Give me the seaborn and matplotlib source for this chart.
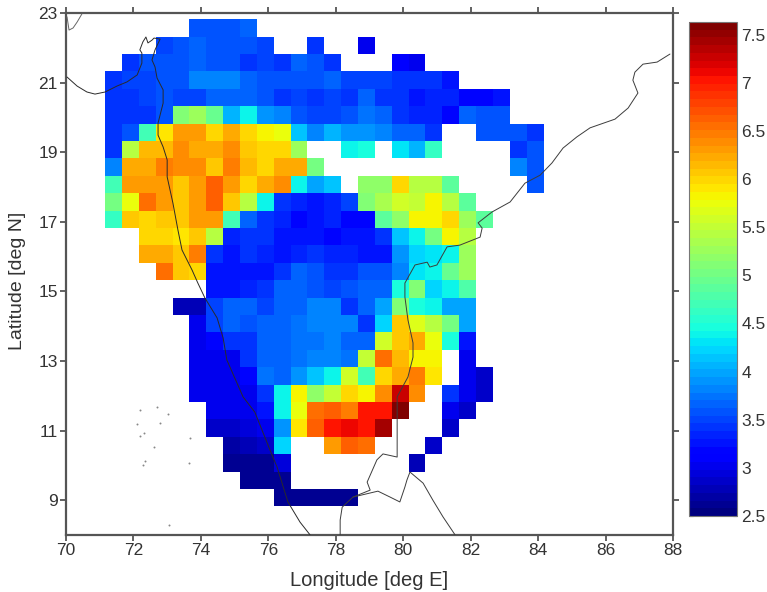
import numpy as np
import pandas as pd
import seaborn as sns
import matplotlib.pyplot as plt

n = np.nan

# grid values, one list per latitude row from north to south, 0.5 deg cells
r00 = [n]*5 + [3.55,3.55,3.55,3.7] + [n]*17
r01 = [n]*3 + [3.5,3.6,3.65,3.55,3.55,3.6,3.5] + [n]*2 + [3.45] + [n]*2 + [3.05] + [n]*10
r02 = [n] + [3.4,3.55,3.55,3.55,3.7,3.6,3.6,3.4,3.5,3.4,3.65,3.55,3.45] + [n]*3 + [3.1,3.05] + [n]*7
r03 = [3.45,3.5,3.5,3.55,3.6,3.8,3.85,3.85,3.65,3.55,3.55,3.55,3.55,3.65,3.5,3.5,3.5,3.4,3.4,3.45,3.25] + [n]*5
r04 = [3.45,3.45,3.5,3.6,3.5,3.5,3.7,3.7,3.65,3.55,3.45,3.5,3.45,3.5,3.45,3.65,3.4,3.4,3.3,3.35,3.35,3.2,3.2,3.3] + [n]*2
r05 = [3.45,3.45,3.45,3.6,5.1,5.3,4.95,4.05,4.4,3.9,3.85,3.55,3.5,3.5,3.6,3.75,3.65,3.4,3.35,3.35,3.2,3.65,3.6,3.6] + [n]*2
r06 = [3.45,3.55,4.7,5.9,6.3,6.3,6.0,6.25,6.0,5.8,5.75,4.15,3.85,4.1,3.9,3.9,3.8,3.7,3.7,3.4] + [n]*2 + [3.6,3.6,3.55,3.45]
r07 = [3.45,5.45,6.15,6.15,6.35,6.2,6.25,6.35,6.1,6.0,6.0,5.3] + [n]*2 + [4.4,4.45] + [n] + [4.3,4.05,4.65] + [n]*4 + [3.45,3.6]
r08 = [3.85,6.2,6.2,6.45,6.35,6.35,6.1,6.5,6.15,6.0,6.2,6.25,5.05] + [n]*11 + [3.85,3.6]
r09 = [4.7,6.3,6.3,6.3,6.05,6.3,6.65,6.3,6.0,6.25,6.35,4.4,3.95,4.15] + [n] + [5.2,5.15,5.95,5.4,5.4,4.85] + [n]*4 + [3.6]
r10 = [5.05,5.75,6.55,6.3,6.1,6.3,6.65,6.1,5.45,4.4,3.4,3.35,3.3,3.35,3.5,5.1,5.35,5.6,5.5,5.8,5.45,4.85] + [n]*4
r11 = [4.65,6.1,5.95,6.1,6.05,6.3,6.3,4.7,3.7,3.4,3.35,3.2,3.25,3.35,3.2,3.2,4.9,5.2,5.8,5.85,5.95,5.3,4.85] + [n]*3
r12 = [n]*2 + [5.95,6.0,5.9,6.1,5.45,3.35,3.4,3.4,3.25,3.25,3.3,3.2,3.25,3.3,3.45,4.15,4.35,5.05,5.85,5.4] + [n]*4
r13 = [n]*2 + [6.25,6.2,6.1,6.5,3.45,3.3,3.4,3.35,3.3,3.35,3.4,3.35,3.35,3.25,3.25,3.9,4.2,4.3,4.35,5.3] + [n]*4
r14 = [n]*3 + [6.55,6.1,5.95,3.25,3.25,3.3,3.3,3.45,3.65,3.6,3.45,3.45,3.55,3.55,3.8,4.3,4.35,4.95,5.25] + [n]*4
r15 = [n]*6 + [3.25,3.25,3.35,3.45,3.7,3.7,3.6,3.5,3.6,3.65,3.65,4.45,5.1,4.2,4.4,4.8] + [n]*4
r16 = [n]*4 + [2.75,2.75,3.5,3.65,3.65,3.5,3.7,3.7,3.8,3.8,3.45,3.65,3.95,5.1,4.45,4.4,3.95,4.0] + [n]*4
r17 = [n]*5 + [3.05,3.5,3.65,3.55,3.65,3.65,3.75,3.8,3.8,3.8,3.45,4.25,6.1,5.65,5.4,5.0,3.95] + [n]*4
r18 = [n]*5 + [3.05,3.2,3.45,3.45,3.7,3.7,3.75,3.75,3.8,3.7,3.7,5.6,6.1,6.25,5.75,4.5,3.3] + [n]*4
r19 = [n]*5 + [3.05,3.05,3.05,3.45,3.7,3.7,3.75,3.8,3.8,3.75,5.5,6.55,6.15,5.85,5.85] + [n] + [3.0] + [n]*4
r20 = [n]*5 + [3.0,3.0,3.05,3.2,3.75,3.65,3.9,4.15,4.4,5.55,4.7,6.0,6.25,6.45,5.9] + [n] + [3.0,2.85] + [n]*3
r21 = [n]*5 + [3.0,3.0,3.05,3.05,3.4,4.4,5.8,5.2,5.5,5.95,5.85,6.35,7.25,6.4] + [n] + [3.4,3.0,2.85] + [n]*3
r22 = [n]*6 + [3.0,3.0,3.05,3.3,4.35,5.75,6.55,6.65,6.45,7.0,7.0,7.6] + [n]*2 + [3.0,2.9] + [n]*4
r23 = [n]*6 + [2.85,2.9,2.95,3.0,3.9,5.9,6.6,7.0,7.1,7.05,7.4] + [n]*3 + [2.85] + [n]*5
r24 = [n]*7 + [2.7,2.75,2.85,4.25] + [n]*2 + [6.3,6.6,6.55] + [n]*3 + [2.85] + [n]*6
r25 = [n]*7 + [2.65,2.65,2.65,2.95] + [n]*7 + [2.8] + [n]*7
r26 = [n]*8 + [2.65,2.65,2.65] + [n]*15
r27 = [n]*10 + [2.6,2.6,2.6,2.6,2.6] + [n]*11

# coastlines in degrees
west_lon = [70.03,70.33,70.62,70.86,71.16,71.51,71.81,72.11,72.25,72.25,72.19,72.28,72.37,72.43,72.55,72.61,72.79,72.64,72.55,72.64,72.70,72.88,72.88,72.73,72.73,72.88,73.0,73.0,73.17,73.32,73.44,73.74,73.91,74.12,74.48,74.66,74.77,75.25,75.60,76.05,76.26,76.58,76.94,77.24]
west_lat = [21.16,20.90,20.73,20.67,20.73,20.90,21.02,21.22,21.56,21.85,21.94,22.17,22.31,22.14,22.22,22.28,22.25,21.94,21.65,21.45,21.13,20.79,20.41,19.84,19.49,19.15,18.78,18.29,17.54,16.76,16.19,15.61,15.24,14.81,14.24,13.66,13.03,11.97,11.53,10.44,9.95,8.95,8.37,8.0]
east_lon = [87.91,87.53,87.11,86.87,86.81,86.96,86.67,86.28,85.54,85.15,84.74,84.41,84.06,83.61,83.17,82.63,82.22,82.34,82.28,81.68,81.30,81.0,80.79,80.71,80.35,80.05,80.05,80.14,80.29,80.29,80.14,79.82,79.82,79.40,79.22,78.93,79.02,78.51,78.19,78.13,78.13]
east_lat = [21.82,21.59,21.53,21.30,21.07,20.70,20.27,19.95,19.70,19.44,19.12,18.69,18.34,18.11,17.57,17.28,16.97,16.82,16.56,16.33,16.28,15.76,15.70,15.84,15.76,15.24,14.84,14.18,13.52,13.11,12.54,11.97,10.24,10.33,10.16,9.52,9.29,9.09,8.80,8.43,8.0]
lanka_lon = [78.51,79.25,79.61,79.90,80.05,80.11,80.20,80.59,80.88,81.18,81.54]
lanka_lat = [9.09,9.26,9.09,8.95,9.38,9.58,9.81,9.49,9.0,8.52,8.0]
kutch_lon = [70.47,70.33,70.21,70.09,70.03]
kutch_lat = [22.97,22.74,22.57,22.51,22.89]
island_lon = [72.19,72.70,73.02,72.11,72.79,72.19,72.31,72.61,72.34,72.28,73.68,73.65,73.05]
island_lat = [11.59,11.68,11.48,11.19,11.22,10.84,10.93,10.53,10.13,10.01,10.79,10.07,8.29]

x_ticks = [70,72,74,76,78,80,82,84,86,88]
y_ticks = [9,11,13,15,17,19,21,23]
cbar_ticks = [2.5,3,3.5,4,4.5,5,5.5,6,6.5,7,7.5]
cbar_labels = ["2.5","3","3.5","4","4.5","5","5.5","6","6.5","7","7.5"]

rows = [r00,r01,r02,r03,r04,r05,r06,r07,r08,r09,r10,r11,r12,r13,
        r14,r15,r16,r17,r18,r19,r20,r21,r22,r23,r24,r25,r26,r27]
lon_edge = 71.16
lat_edge = 22.82
cell = 0.5
df = pd.DataFrame(rows,
                  index=[lat_edge - cell*(i + 0.5) for i in range(len(rows))],
                  columns=[lon_edge + cell*(i + 0.5) for i in range(len(r00))])

sns.set_style("white")
plt.rcParams["font.family"] = ["Liberation Sans", "DejaVu Sans"]
frame = "#555555"
text = "#333333"

fig = plt.figure(figsize=(7.67, 5.92), dpi=100)
ax = fig.add_axes([66/767, 1 - 535/592, 607/767, 522/592])
cax = fig.add_axes([689/767, 1 - 516/592, 48/767, 494/592])

ax.set_xlim(70, 88)
ax.set_ylim(8, 23)

# heatmap sits in an inset placed in lon/lat coordinates
hm = ax.inset_axes([lon_edge, lat_edge - cell*df.shape[0], cell*df.shape[1], cell*df.shape[0]],
                   transform=ax.transData, zorder=1)
sns.heatmap(df, ax=hm, cmap=plt.get_cmap("jet", 64), vmin=2.5, vmax=7.63,
            xticklabels=False, yticklabels=False, cbar_ax=cax,
            cbar_kws={"ticks": cbar_ticks})
hm.set_axis_off()

for lon, lat, c in [(west_lon, west_lat, "#2a2a2a"), (east_lon, east_lat, "#3c3c3c"),
                    (lanka_lon, lanka_lat, "#3c3c3c"), (kutch_lon, kutch_lat, "#666666")]:
    ax.plot(lon, lat, color=c, lw=0.7, zorder=3)
ax.scatter(island_lon, island_lat, s=2, color="#888888", linewidths=0, zorder=3)

ax.set_xticks(x_ticks)
ax.set_yticks(y_ticks)
ax.tick_params(direction="out", length=4, width=1.3, color=frame, labelcolor=text,
               labelsize=12.5, top=True, right=True, bottom=True, left=True, pad=2)
for s in ax.spines.values():
    s.set_color(frame)
    s.set_linewidth(1.6)
ax.set_xlabel("Longitude [deg E]", fontsize=14.5, color=text, labelpad=9)
ax.set_ylabel("Latitude [deg N]", fontsize=14, color=text, labelpad=9, y=0.487)

cb = hm.collections[0].colorbar
cb.set_ticklabels(cbar_labels)
cb.outline.set_edgecolor("#777777")
cb.outline.set_linewidth(0.8)
cax.tick_params(direction="in", length=3, width=0.8, color="#444444", labelcolor=text,
                labelsize=12.5, left=True, right=True, pad=3)

fig.savefig("out.png", dpi=100)
